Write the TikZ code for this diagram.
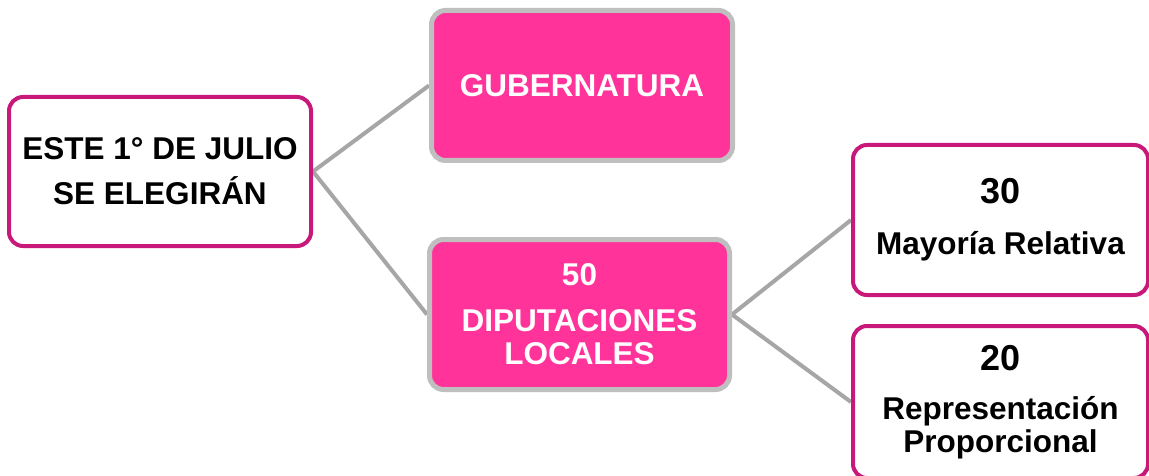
\documentclass[tikz,border=0pt]{standalone}
\usepackage{fontspec}
\setmainfont{Liberation Sans}
\usetikzlibrary{backgrounds}
\definecolor{magborder}{RGB}{200,24,122}
\definecolor{pinkfill}{RGB}{255,51,153}
\definecolor{grayborder}{RGB}{191,191,191}
\definecolor{linkgray}{RGB}{166,166,166}
\begin{document}
\begin{tikzpicture}[x=1pt,y=-1pt,
  whitebox/.style={draw=magborder, line width=4pt, fill=white, rounded corners=14pt,
    inner sep=0pt, align=center, text=black, font=\bfseries\fontsize{31.5}{33}\selectfont},
  pinkbox/.style={draw=grayborder, line width=5pt, fill=pinkfill, rounded corners=14pt,
    inner sep=0pt, align=center, text=white, font=\bfseries\fontsize{31.5}{33}\selectfont},
  link/.style={draw=linkgray, line width=4pt}]
\useasboundingbox (0,0) rectangle (1149,476);
\node[whitebox, minimum width=302pt, minimum height=149pt] (root) at (160,171.5)
  {ESTE 1° DE JULIO\\[12pt] SE ELEGIRÁN};
\node[pinkbox, minimum width=301pt, minimum height=150pt] (gub) at (582,85.5)
  {GUBERNATURA};
\node[pinkbox, minimum width=300pt, minimum height=150pt] (dip) at (579.5,314.5)
  {50\\[13pt]DIPUTACIONES\\LOCALES};
\node[whitebox, minimum width=295pt, minimum height=150pt] (mr) at (1000.5,220)
  {{\fontsize{36}{33}\selectfont 30}\\[18pt]Mayoría Relativa};
\node[whitebox, minimum width=295pt, minimum height=152pt] (rp) at (1000.5,402)
  {{\fontsize{36}{33}\selectfont 20}\\[16pt]Representación\\Proporcional};
\begin{scope}[on background layer]
\draw[link] (root.east) -- (gub.west);
\draw[link] (root.east) -- (dip.west);
\draw[link] (dip.east) -- (mr.west);
\draw[link] (dip.east) -- (rp.west);
\end{scope}
\end{tikzpicture}
\end{document}
